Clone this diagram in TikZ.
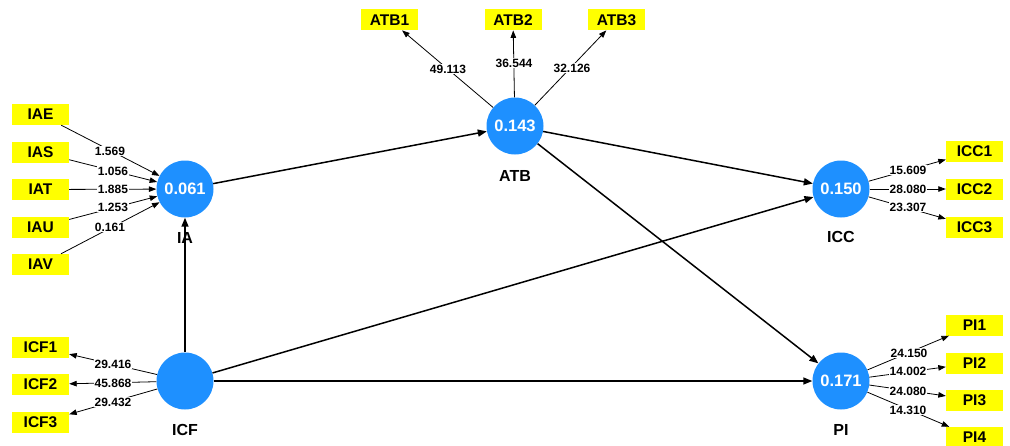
\documentclass[tikz,border=0pt]{standalone}
\usepackage{fontspec}
\setmainfont{Liberation Sans}
\usetikzlibrary{arrows.meta}
\definecolor{lvblue}{RGB}{30,144,255}
\definecolor{indyellow}{RGB}{255,255,0}
\begin{document}
\begin{tikzpicture}[x=1pt,y=-1pt,
  latent/.style={circle,fill=lvblue,draw=none,minimum size=57pt,inner sep=0pt,
    text=white,font=\bfseries\fontsize{16.5}{16.5}\selectfont},
  latname/.style={font=\bfseries\fontsize{16}{16}\selectfont,inner sep=0pt},
  indicator/.style={rectangle,fill=indyellow,draw=none,minimum width=57pt,
    minimum height=21pt,inner sep=0pt,font=\bfseries\fontsize{15.5}{15.5}\selectfont},
  weight/.style={fill=white,inner sep=1pt,font=\bfseries\fontsize{12}{12}\selectfont},
  path/.style={line width=1.5pt,-{Triangle[length=9pt,width=7pt]}},
  load/.style={line width=0.8pt,-{Triangle[length=7.5pt,width=5.5pt]}}]
\useasboundingbox (0,0) rectangle (1010,445);

% latent variables
\node[latent] (IA)  at (185,189) {0.061};
\node[latent] (ICF) at (185,381) {};
\node[latent] (ATB) at (515,126) {0.143};
\node[latent] (ICC) at (841,189) {0.150};
\node[latent] (PI)  at (841,381) {0.171};

% latent variable names
\node[latname] (nIA)  at (185,238) {IA};
\node[latname] (nICF) at (185,430) {ICF};
\node[latname] (nATB) at (515,176) {ATB};
\node[latname] (nICC) at (841,237) {ICC};
\node[latname] (nPI)  at (841,430) {PI};

% indicators
\node[indicator] (IAE) at (40.5,114.5) {IAE};
\node[indicator] (IAS) at (40.5,152.5) {IAS};
\node[indicator] (IAT) at (40.5,189.5) {IAT};
\node[indicator] (IAU) at (40.5,227) {IAU};
\node[indicator] (IAV) at (40.5,264.5) {IAV};
\node[indicator] (ICF1) at (40.5,347.5) {ICF1};
\node[indicator] (ICF2) at (40.5,384.5) {ICF2};
\node[indicator] (ICF3) at (40.5,422.5) {ICF3};
\node[indicator] (ATB1) at (389.5,19.7) {ATB1};
\node[indicator] (ATB2) at (513,19.7) {ATB2};
\node[indicator] (ATB3) at (616.5,19.7) {ATB3};
\node[indicator] (ICC1) at (974.5,151.5) {ICC1};
\node[indicator] (ICC2) at (974.5,189) {ICC2};
\node[indicator] (ICC3) at (974.5,227) {ICC3};
\node[indicator] (PI1) at (974.5,325) {PI1};
\node[indicator] (PI2) at (974.5,363) {PI2};
\node[indicator] (PI3) at (974.5,400) {PI3};
\node[indicator] (PI4) at (974.5,437.5) {PI4};

% structural paths
\draw[path] (IA) -- (ATB);
\draw[path] (ATB) -- (ICC);
\draw[path] (ATB) -- (PI);
\draw[path] (ICF) -- (IA);
\draw[path] (ICF) -- (ICC);
\draw[path] (ICF) -- (PI);

% formative indicators of IA
\foreach \i in {IAE,IAS,IAT,IAU,IAV} \draw[load] (\i) -- (IA);
% reflective indicators
\foreach \i in {ICF1,ICF2,ICF3} \draw[load] (ICF) -- (\i);
\foreach \i in {ATB1,ATB2,ATB3} \draw[load] (ATB) -- (\i);
\foreach \i in {ICC1,ICC2,ICC3} \draw[load] (ICC) -- (\i);
\foreach \i in {PI1,PI2,PI3,PI4} \draw[load] (PI) -- (\i);

% weights and loadings
\node[weight] (wIAE) at (110,151) {1.569};
\node[weight] (wIAS) at (113,171) {1.056};
\node[weight] (wIAT) at (113,189) {1.885};
\node[weight] (wIAU) at (113,207) {1.253};
\node[weight] (wIAV) at (110,227) {0.161};
\node[weight] (wICF1) at (113,364) {29.416};
\node[weight] (wICF2) at (113,383) {45.868};
\node[weight] (wICF3) at (113,402) {29.432};
\node[weight] (wATB1) at (448,69) {49.113};
\node[weight] (wATB2) at (514,63) {36.544};
\node[weight] (wATB3) at (572,68) {32.126};
\node[weight] (wICC1) at (908,170) {15.609};
\node[weight] (wICC2) at (908,189) {28.080};
\node[weight] (wICC3) at (908,207) {23.307};
\node[weight] (wPI1) at (909,353) {24.150};
\node[weight] (wPI2) at (908,371) {14.002};
\node[weight] (wPI3) at (908,391) {24.080};
\node[weight] (wPI4) at (908,410) {14.310};
\end{tikzpicture}
\end{document}
